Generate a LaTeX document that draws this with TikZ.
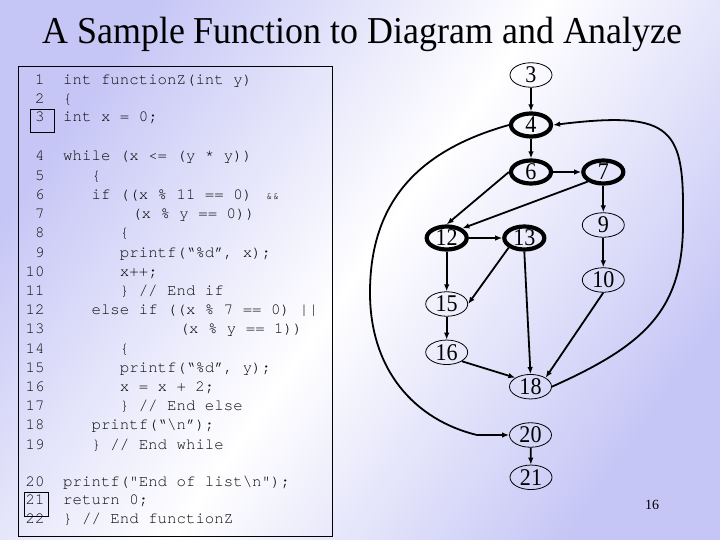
\documentclass[tikz,border=0pt]{standalone}
\usepackage{fontspec}
\setmainfont{Liberation Serif}
\newfontfamily\codefont{TeX Gyre Cursor}
\usetikzlibrary{shapes.geometric,arrows.meta}
\definecolor{lav}{RGB}{198,198,246}
\definecolor{codeink}{RGB}{10,10,10}
\begin{document}
\begin{tikzpicture}[x=1pt,y=-1pt,
  code/.style={anchor=base west,inner sep=0pt,text=codeink,font=\codefont\fontsize{15.75}{16}\selectfont},
  num/.style={anchor=base east,inner sep=0pt,text=codeink,font=\codefont\fontsize{15.75}{16}\selectfont},
  gnode/.style={ellipse,draw,inner sep=0pt,font=\fontsize{24}{24}\selectfont},
  thinnode/.style={gnode,line width=0.8pt,minimum width=42pt,minimum height=24.5pt},
  thicknode/.style={gnode,line width=4.2pt,minimum width=40pt,minimum height=23pt},
  edge/.style={line width=1.8pt,-{Latex[length=7pt,width=5.5pt]}}]
\useasboundingbox (0,0) rectangle (720,540);
\shade[top color=lav,bottom color=lav,middle color=white,shading angle=55] (0,0) rectangle (720,540);
% title
\node[anchor=base,inner sep=0pt] (title) at (362.5,44) {\scalebox{0.945}[1]{\fontsize{38}{38}\selectfont A Sample Function to Diagram and Analyze}};
% code panel
\draw[line width=1pt] (18,67) rectangle (332,536);
\draw[line width=1pt] (30.7,109.3) rectangle (54.3,132.3);
\draw[line width=1pt] (24,492.7) rectangle (48.3,516);
\foreach \n/\y in {1/84.5,2/103.3,3/122,4/161,5/180.2,6/199.4,7/218.6,8/237.8,9/257,10/276.2,11/295.4,12/314.6,13/333.8,14/353,15/372.2,16/391.4,17/410.6,18/429.8,19/449,20/486,21/504.7,22/523.3}
  \node[num] (num\n) at (44.7,\y) {\n};
\node[code] (c1) at (63,84.5) {int functionZ(int y)};
\node[code] (c2) at (63,103.3) {\{};
\node[code] (c3) at (63,122) {int x = 0;};
\node[code] (c4) at (63,161) {while (x <= (y * y))};
\node[code] (c5) at (91.35,180.2) {\{};
\node[code] (c6) at (91.35,199.4) {if ((x \% 11 == 0)};
\node[code] (c6b) at (266,199.4) {\fontsize{11}{11}\selectfont\&\&};
\node[code] (c7) at (132,218.6) {(x \% y == 0))};
\node[code] (c8) at (119.7,237.8) {\{};
\node[code] (c9) at (119.7,257) {printf(“\%d”, x);};
\node[code] (c10) at (119.7,276.2) {x++;};
\node[code] (c11) at (119.7,295.4) {\} // End if};
\node[code] (c12) at (91.35,314.6) {else if ((x \% 7 == 0) ||};
\node[code] (c13) at (179.5,333.8) {(x \% y == 1))};
\node[code] (c14) at (119.7,353) {\{};
\node[code] (c15) at (119.7,372.2) {printf(“\%d”, y);};
\node[code] (c16) at (119.7,391.4) {x = x + 2;};
\node[code] (c17) at (119.7,410.6) {\} // End else};
\node[code] (c18) at (91.35,429.8) {printf(“\textbackslash n”);};
\node[code] (c19) at (91.35,449) {\} // End while};
\node[code] (c20) at (63,486) {printf(\symbol{34}End of list\textbackslash n\symbol{34});};
\node[code] (c21) at (63,504.7) {return 0;};
\node[code] (c22) at (63,523.3) {\} // End functionZ};
% graph
\node[thinnode] (n3) at (531,75) {\scalebox{0.92}[1]{3}};
\node[thicknode] (n4) at (531,125) {\scalebox{0.92}[1]{4}};
\node[thicknode] (n6) at (531,172) {\scalebox{0.92}[1]{6}};
\node[thicknode] (n7) at (603.3,172) {\scalebox{0.92}[1]{7}};
\node[thinnode] (n9) at (603.3,225) {\scalebox{0.92}[1]{9}};
\node[thinnode] (n10) at (603.3,280) {\scalebox{0.92}[1]{10}};
\node[thicknode] (n12) at (446.7,238) {\scalebox{0.92}[1]{12}};
\node[thicknode] (n13) at (524.3,238) {\scalebox{0.92}[1]{13}};
\node[thinnode] (n15) at (446.7,304) {\scalebox{0.92}[1]{15}};
\node[thinnode] (n16) at (446.7,352.3) {\scalebox{0.92}[1]{16}};
\node[thinnode] (n18) at (530.5,386.7) {\scalebox{0.92}[1]{18}};
\node[thinnode] (n20) at (530.5,435) {\scalebox{0.92}[1]{20}};
\node[thinnode] (n21) at (531,477.3) {\scalebox{0.92}[1]{21}};
\draw[edge] (n3) -- (n4);
\draw[edge] (n4) -- (n6);
\draw[edge] (n6) -- (n7);
\draw[edge] (n6.west) -- (n12.north);
\draw[edge] (n7.south west) -- (n12.north east);
\draw[edge] (n7) -- (n9);
\draw[edge] (n9) -- (n10);
\draw[edge] (n12) -- (n13);
\draw[edge] (n12) -- (n15);
\draw[edge] (n13.south west) -- (n15.east);
\draw[edge] (n13.south) -- (n18.north);
\draw[edge] (n15) -- (n16);
\draw[edge] (n16.south east) -- (n18.north west);
\draw[edge] (n10.south) -- (n18.north east);
\draw[edge] (n20) -- (n21);
\draw[edge] (n4.west) .. controls (420,150) and (371,200) .. (370,290) .. controls (369,370) and (415,420) .. (477,435) -- (n20.west);
\draw[edge] (n18.east) .. controls (645,345) and (684,310) .. (683,220) .. controls (684,130) and (675,110) .. (n4.east);
% page number
\node[anchor=base,inner sep=0pt,font=\fontsize{14}{14}\selectfont] (page) at (652,509) {16};
\end{tikzpicture}
\end{document}
